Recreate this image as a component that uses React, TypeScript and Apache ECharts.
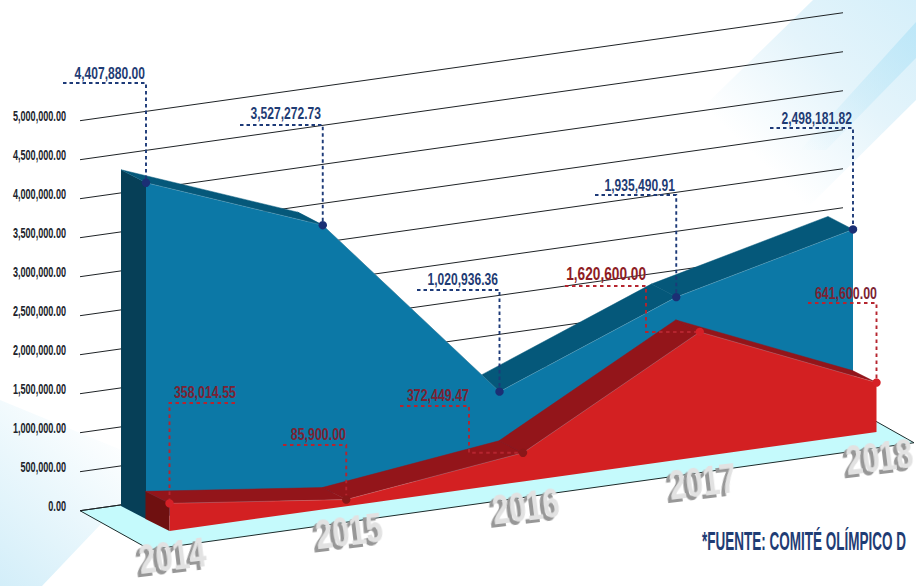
import React, { useEffect, useRef } from "react";
import * as echarts from "echarts";

const years = ["2014", "2015", "2016", "2017", "2018"];
const comiteValues = [4407880.0, 3527272.73, 1020936.36, 1935490.91, 2498181.82];
const otherValues = [358014.55, 85900.0, 372449.47, 1620600.0, 641600.0];
const comiteLabels = ["4,407,880.00", "3,527,272.73", "1,020,936.36", "1,935,490.91", "2,498,181.82"];
const otherLabels = ["358,014.55", "85,900.00", "372,449.47", "1,620,600.00", "641,600.00"];
const ticks = [0, 500000, 1000000, 1500000, 2000000, 2500000, 3000000, 3500000, 4000000, 4500000, 5000000];
const sourceNote = "*FUENTE: COMITÉ OLÍMPICO D";

const FONT = '"Liberation Sans", sans-serif';
const NAVY = "#1f3c74";
const MAROON = "#7b2233";
const SLOPE = 0.14;

const back = { baseX: 146, baseY: 519, dx: 0, edge: [-25, -13], depthScale: 0.978 };
const front = { baseX: 169, baseY: 531, dx: 23.5, edge: [-24, -12], depthScale: 0.987 };

const blueLeaders = [
  { y: 83, x0: 63, lx: 145, ly: 73 },
  { y: 125, x0: 240, lx: 321, ly: 113 },
  { y: 290, x0: 417, lx: 498, ly: 279 },
  { y: 195, x0: 595, lx: 675, ly: 185 },
  { y: 128, x0: 770, lx: 852, ly: 118 },
];
const redLeaders = [
  { y: 403, x1: 235, lx: 236, ly: 392, size: 17 },
  { y: 445, x0: 283, lx: 346, ly: 434, size: 17 },
  { y: 406, x0: 400, ex: 469, lx: 469, ly: 395, size: 17 },
  { y: 286, x0: 565, ex: 646, lx: 646, ly: 274, size: 18 },
  { y: 303, x0: 808, lx: 877, ly: 293, size: 17 },
];
const redDotColors = ["#d62027", "#8a1719", "#8a1719", "#d62027", "#d62027"];

function pt(api: any, plane: any, i: number, v: number) {
  const c = api.coord([i, v]);
  const rise = api.coord([i, 0])[1] - c[1];
  const x = c[0] + plane.dx;
  return [x, plane.baseY - SLOPE * (x - plane.baseX) - rise * plane.depthScale];
}

function solid(plane: any, values: number[], colors: any) {
  return (params: any, api: any) => {
    if (params.dataIndex !== 0) return null;
    const tops = values.map((v, i) => pt(api, plane, i, v));
    const bases = values.map((_, i) => pt(api, plane, i, 0));
    const [ex, ey] = plane.edge;
    const shift = (p: number[]) => [p[0] + ex, p[1] + ey];
    const children: any[] = [];
    children.push({
      type: "polygon",
      shape: { points: [tops[0], shift(tops[0]), shift(bases[0]), bases[0]] },
      style: { fill: colors.side },
    });
    for (let i = 0; i < tops.length - 1; i++) {
      children.push({
        type: "polygon",
        shape: { points: [tops[i], tops[i + 1], shift(tops[i + 1]), shift(tops[i])] },
        style: { fill: colors.top, stroke: colors.top, lineWidth: 0.5 },
      });
    }
    children.push({
      type: "polygon",
      shape: { points: [...tops, ...bases.slice().reverse()] },
      style: { fill: colors.front },
    });
    children.push({
      type: "polyline",
      shape: { points: tops },
      style: { stroke: "rgba(255,255,255,0.25)", fill: null, lineWidth: 0.7 },
    });
    return { type: "group", children };
  };
}

function label(text: string, x: number, y: number, size: number, color: string, sx = 0.71) {
  return {
    type: "text",
    x,
    y,
    scaleX: sx,
    style: {
      text,
      x: 0,
      y: 0,
      fill: color,
      font: `bold ${size}px ${FONT}`,
      textAlign: "right",
      textVerticalAlign: "middle",
    },
  };
}

const tickText = (v: number) =>
  v.toLocaleString("en-US", { minimumFractionDigits: 2, maximumFractionDigits: 2 });

export default function App() {
  const ref = useRef<HTMLDivElement>(null);
  useEffect(() => {
    document.body.style.margin = "0";
    document.body.style.overflow = "hidden";
    const chart = echarts.init(ref.current!, undefined, { renderer: "svg" });
    chart.setOption({
      animation: false,
      backgroundColor: "#ffffff",
      grid: { left: 146, width: 707, top: 116.7, height: 390, outerBoundsMode: "none" },
      xAxis: {
        type: "category",
        data: years,
        boundaryGap: false,
        axisLine: { show: false },
        axisTick: { show: false },
        axisLabel: { show: false },
      },
      yAxis: {
        type: "value",
        min: 0,
        max: 5000000,
        interval: 500000,
        splitLine: { show: false },
        axisLine: { show: false },
        axisTick: { show: false },
        axisLabel: { show: false },
      },
      graphic: [
        {
          type: "polygon",
          z: -5,
          silent: true,
          shape: { points: [[813, 0], [916, 0], [916, 100], [800, 215], [690, 120]] },
          style: {
            fill: new echarts.graphic.LinearGradient(1, 0, 0, 1, [
              { offset: 0, color: "#d5effa" },
              { offset: 0.35, color: "#e4f4fb" },
              { offset: 0.72, color: "#ffffff" },
              { offset: 1, color: "#ffffff" },
            ]),
          },
        },
        {
          type: "polygon",
          z: -4,
          silent: true,
          shape: { points: [[916, 22], [916, 58], [826, 150], [800, 150]] },
          style: {
            fill: new echarts.graphic.LinearGradient(1, 0, 0, 1, [
              { offset: 0, color: "rgba(180,228,247,0.75)" },
              { offset: 1, color: "rgba(180,228,247,0)" },
            ]),
          },
        },
        {
          type: "polygon",
          z: -5,
          silent: true,
          shape: { points: [[0, 400], [170, 470], [100, 525], [42, 586], [0, 586]] },
          style: {
            fill: new echarts.graphic.LinearGradient(0, 1, 0.8, 0, [
              { offset: 0, color: "#d3eef9" },
              { offset: 0.45, color: "#eaf7fc" },
              { offset: 0.85, color: "#ffffff" },
              { offset: 1, color: "#ffffff" },
            ]),
          },
        },
      ],
      series: [
        {
          type: "custom",
          name: "floor",
          coordinateSystem: "cartesian2d",
          data: [[0, 0]],
          z: 1,
          renderItem: (_: any, api: any) => {
            const c0 = api.coord([0, 0]);
            const c4 = api.coord([4, 0]);
            const l = [c0[0] - 66, c0[1] + 4];
            const r = [c4[0] - 10, l[1] - 0.1415 * 763];
            return {
              type: "polygon",
              shape: { points: [l, [l[0] + 70, l[1] + 39], [r[0] + 71, r[1] + 40], r] },
              style: { fill: "#c5fafc", stroke: "#1c2b2b", lineWidth: 1 },
            };
          },
        },
        {
          type: "custom",
          name: "grid",
          coordinateSystem: "cartesian2d",
          data: ticks.map((t) => [0, t]),
          z: 2,
          renderItem: (_: any, api: any) => {
            const c = api.coord([0, api.value(1)]);
            const rise = 763 * 0.1415;
            return {
              type: "group",
              children: [
                {
                  type: "line",
                  shape: { x1: c[0] - 66, y1: c[1] + 4, x2: c[0] + 697, y2: c[1] + 4 - rise },
                  style: { stroke: "#1f2326", lineWidth: 1 },
                },
                {
                  type: "text",
                  x: c[0] - 80,
                  y: c[1],
                  scaleX: 0.65,
                  style: {
                    text: tickText(api.value(1)),
                    x: 0,
                    y: 0,
                    fill: "#20232a",
                    font: `bold 14px ${FONT}`,
                    textAlign: "right",
                    textVerticalAlign: "middle",
                  },
                },
              ],
            };
          },
        },
        {
          type: "custom",
          name: "Comité",
          coordinateSystem: "cartesian2d",
          data: comiteValues.map((v, i) => [i, v]),
          z: 3,
          renderItem: solid(back, comiteValues, { side: "#063f57", top: "#05587a", front: "#0c78a6" }),
        },
        {
          type: "custom",
          name: "Otros",
          coordinateSystem: "cartesian2d",
          data: otherValues.map((v, i) => [i, v]),
          z: 4,
          renderItem: solid(front, otherValues, { side: "#6f1010", top: "#93151a", front: "#d32022" }),
        },
        {
          type: "custom",
          name: "blueNotes",
          coordinateSystem: "cartesian2d",
          data: comiteValues.map((v, i) => [i, v]),
          z: 5,
          renderItem: (params: any, api: any) => {
            const i = params.dataIndex;
            const p = pt(api, back, i, comiteValues[i]);
            const L = blueLeaders[i];
            return {
              type: "group",
              children: [
                {
                  type: "polyline",
                  shape: { points: [[L.x0, L.y], [p[0], L.y], p] },
                  style: { stroke: "#1d3a78", fill: null, lineWidth: 1.9, lineDash: [3.5, 3] },
                },
                { type: "circle", shape: { cx: p[0], cy: p[1], r: 4.2 }, style: { fill: "#1b2f74" } },
                label(comiteLabels[i], L.lx, L.ly, 17, NAVY),
              ],
            };
          },
        },
        {
          type: "custom",
          name: "redNotes",
          coordinateSystem: "cartesian2d",
          data: otherValues.map((v, i) => [i, v]),
          z: 6,
          renderItem: (params: any, api: any) => {
            const i = params.dataIndex;
            const p = pt(api, front, i, otherValues[i]);
            const L: any = redLeaders[i];
            const pts =
              L.ex !== undefined
                ? [[L.x0, L.y], [L.ex, L.y], [L.ex, p[1]], p]
                : L.x1 !== undefined
                ? [[L.x1, L.y], [p[0], L.y], p]
                : [[L.x0, L.y], [p[0], L.y], p];
            return {
              type: "group",
              children: [
                {
                  type: "polyline",
                  shape: { points: pts },
                  style: { stroke: "#b5252f", fill: null, lineWidth: 1.9, lineDash: [3.5, 3.5] },
                },
                { type: "circle", shape: { cx: p[0], cy: p[1], r: 4.2 }, style: { fill: redDotColors[i] } },
                label(otherLabels[i], L.lx, L.ly, L.size, i === 3 ? "#8e1c24" : MAROON, i === 3 ? 0.76 : 0.73),
              ],
            };
          },
        },
        {
          type: "custom",
          name: "years",
          coordinateSystem: "cartesian2d",
          data: years.map((_, i) => [i, 0]),
          z: 7,
          renderItem: (params: any, api: any) => {
            const i = params.dataIndex;
            const c = api.coord([i, 0]);
            const x = c[0] + front.dx + 3;
            return {
              type: "text",
              x,
              y: 555 - SLOPE * (x - 180),
              rotation: 0.12,
              scaleX: 0.72,
              style: {
                text: years[i],
                x: 0,
                y: 0,
                fill: "#e2e2e2",
                font: `bold 42px ${FONT}`,
                textAlign: "center",
                textVerticalAlign: "middle",
                textShadowColor: "#979797",
                textShadowBlur: 0.2,
                textShadowOffsetX: -4,
                textShadowOffsetY: 3,
              },
            };
          },
        },
        {
          type: "custom",
          name: "note",
          coordinateSystem: "cartesian2d",
          data: [[0, 0]],
          z: 8,
          renderItem: () => ({
            type: "text",
            x: 702,
            y: 541,
            scaleX: 0.54,
            style: {
              text: sourceNote,
              x: 0,
              y: 0,
              fill: NAVY,
              font: `bold 25px ${FONT}`,
              textAlign: "left",
              textVerticalAlign: "middle",
            },
          }),
        },
      ],
    });
    return () => chart.dispose();
  }, []);
  return <div ref={ref} style={{ width: 916, height: 586 }} />;
}
